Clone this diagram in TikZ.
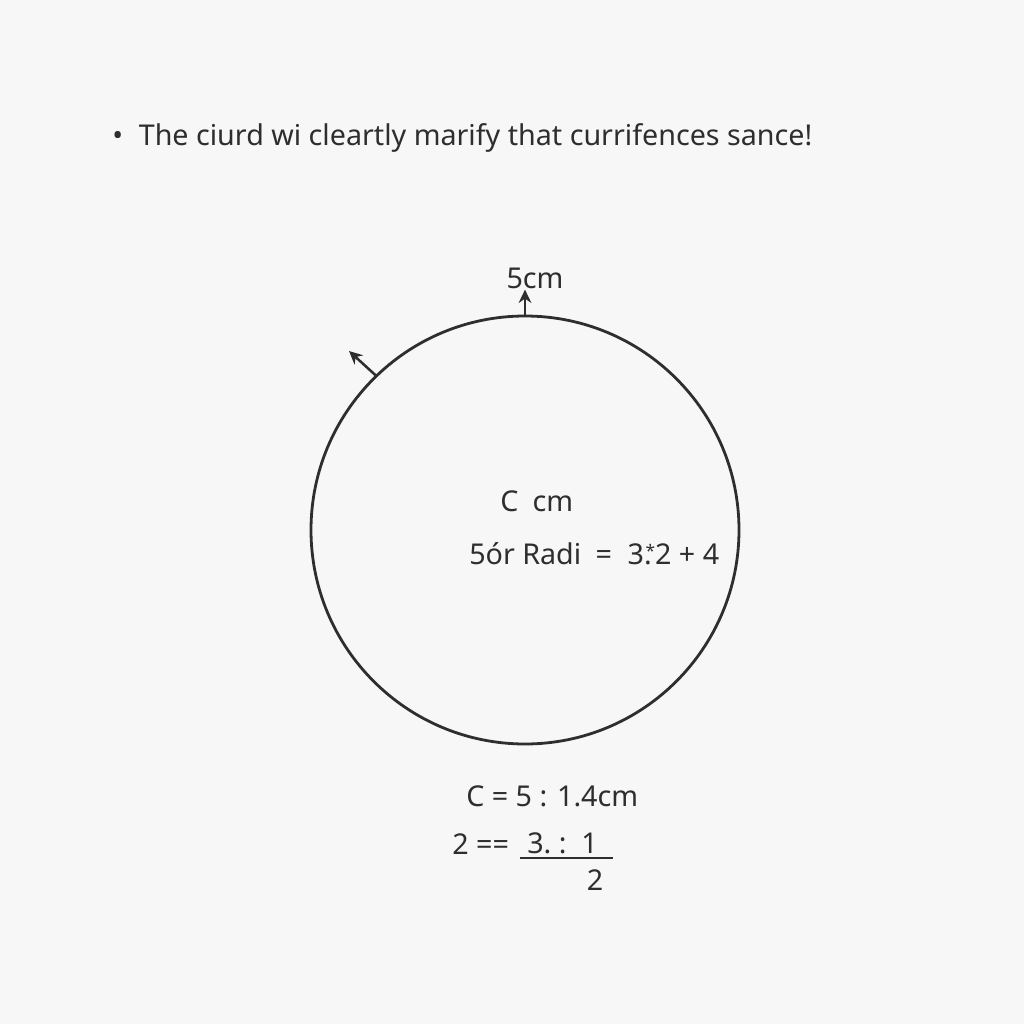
\documentclass[tikz,border=0pt]{standalone}
\usepackage{fontspec}
\setmainfont{Noto Sans}
\usetikzlibrary{arrows.meta}
\begin{document}
\begin{tikzpicture}[x=0.75pt,y=-0.75pt,
  lbl/.style={inner sep=0pt,font=\fontsize{21.5}{25}\selectfont,text=black!82},
  ring/.style={draw=black!82,line width=2.1pt},
  arr/.style={draw=black!82,line width=1.9pt,-{Stealth[length=10pt,width=9.5pt]}}]
\useasboundingbox[fill=white!97!black] (0,0) rectangle (1024,1024);
\node[lbl,anchor=west] (title) at (112,138) {\textbullet\hspace{0.55em}The ciurd wi cleartly marify that currifences sance!};
\node[ring,circle,minimum size=428*0.75pt,inner sep=0pt] (c) at (525,530) {};
\node[lbl] (top) at (535,278) {5cm};
\draw[arr] (c.north) -- ++(0,-25);
\coordinate (ul) at (349,351);
\draw[arr] (c.134) -- (ul);
\node[lbl,anchor=west] (ccm) at (500,501) {C\hspace{0.5em}cm};
\node[lbl,anchor=west] (radi) at (469,554) {5ór Radi\hspace{0.5em}=\hspace{0.55em}3.\kern-0.22em\raisebox{0.45ex}{\fontsize{13}{13}\selectfont*}2 + 4};
\node[lbl,anchor=west] (ceq) at (466,796) {C = 5 : 1.4cm};
\node[lbl,anchor=west] (two) at (452,844) {2 ==};
\node[lbl,anchor=west] (num) at (527,843) {3.\ :\ \ 1};
\node[lbl] (den) at (595,880) {2};
\draw[line width=1.4pt,draw=black!82] (520,858) -- (613,858);
\end{tikzpicture}
\end{document}
